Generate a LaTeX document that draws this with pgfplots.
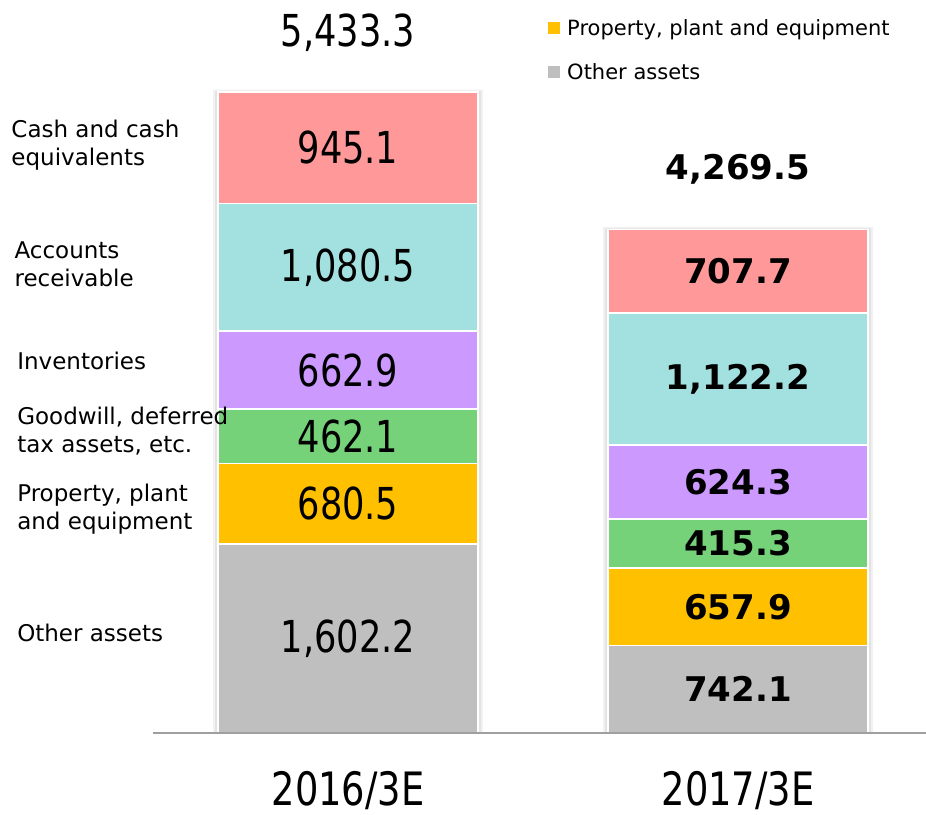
\documentclass[border=0pt]{standalone}
\usepackage{pgfplots}
\pgfplotsset{compat=1.18}
\usepackage{pgfplotstable}
\usepackage{fontspec}
\setmainfont{DejaVu Sans}
\usepackage{graphicx}
\definecolor{cashc}{HTML}{FF9999}
\definecolor{arc}{HTML}{A3E1E0}
\definecolor{invc}{HTML}{CC99FF}
\definecolor{gwc}{HTML}{75D279}
\definecolor{ppec}{HTML}{FFC000}
\definecolor{othc}{HTML}{BFBFBF}

\pgfplotstableread{
x other ppe gw inv ar cash total
0 1602.2 680.5 462.1 662.9 1080.5 945.1 5433.3
1 742.1 657.9 415.3 624.3 1122.2 707.7 4269.5
}\assets

\pgfplotstableread{
x y label
0 801.1 1,602.2
0 1942.45 680.5
0 2513.75 462.1
0 3076.25 662.9
0 3947.95 1,080.5
0 4960.75 945.1
0 5933 5,433.3
}\labelsA
\pgfplotstableread{
x y label
1 371.05 742.1
1 1071.05 657.9
1 1607.65 415.3
1 2127.45 624.3
1 3000.7 1,122.2
1 3915.65 707.7
1 4781 4,269.5
}\labelsB

\DeclareRobustCommand{\cond}[1]{\scalebox{0.80}[1]{#1}}
\pgfplotsset{mybase/.style={x=390pt, y=0.11798pt, xmin=-0.5, xmax=1.482, ymin=0, ymax=6213, clip=false}}

\begin{document}
\begin{tikzpicture}
% soft shadow behind the bars
\begin{axis}[mybase, hide axis, ybar, bar shift=0pt]
\addplot[fill=black!5, draw=none, bar width=270pt] table[x=x,y expr=\thisrow{total}+20]{\assets};
\addplot[fill=black!11, draw=none, bar width=266pt] table[x=x,y expr=\thisrow{total}+8]{\assets};
\end{axis}
\begin{axis}[mybase,
  ybar stacked, bar width=260pt,
  axis on top,
  axis x line=bottom, axis y line=none,
  x axis line style={draw=gray!75, line width=1.5pt, -},
  xtick={0,1}, xticklabels={{\cond{2016/3E}},{\cond{2017/3E}}},
  major tick length=0pt,
  xticklabel style={font=\fontsize{46}{46}\selectfont, anchor=base, text depth=0pt, yshift=-72pt},
]
\addplot[fill=othc, draw=white, line width=1.5pt] table[x=x,y=other]{\assets};
\addplot[fill=ppec, draw=white, line width=1.5pt] table[x=x,y=ppe]{\assets};
\addplot[fill=gwc, draw=white, line width=1.5pt] table[x=x,y=gw]{\assets};
\addplot[fill=invc, draw=white, line width=1.5pt] table[x=x,y=inv]{\assets};
\addplot[fill=arc, draw=white, line width=1.5pt] table[x=x,y=ar]{\assets};
\addplot[fill=cashc, draw=white, line width=1.5pt] table[x=x,y=cash]{\assets};
\coordinate (BL) at (axis cs:-0.8923,-686.6);
\coordinate (TR) at (axis cs:1.482,6213);
\end{axis}
\begin{axis}[mybase, hide axis,
  legend style={at={(axis cs:0.5026,6070)}, anchor=north west, draw=none, fill=none,
    font=\fontsize{21}{25}\selectfont, row sep=23pt, inner sep=0pt},
  legend cell align=left]
\addplot[forget plot, draw=none, mark=none, nodes near coords={\cond{\pgfplotspointmeta}},
  point meta=explicit symbolic,
  every node near coord/.style={anchor=center, font=\fontsize{44}{44}\selectfont, text=black}]
  table[x=x, y=y, meta=label]{\labelsA};
\addplot[forget plot, draw=none, mark=none, nodes near coords,
  point meta=explicit symbolic,
  every node near coord/.style={anchor=center, font=\fontsize{34}{34}\selectfont\bfseries, text=black}]
  table[x=x, y=y, meta=label]{\labelsB};
\addlegendimage{legend image code/.code={\path[draw=none, fill=none] (0pt,-6pt) rectangle (21pt,6pt); \fill[ppec, draw=none] (4pt,-6pt) rectangle (16pt,6pt);}}
\addlegendentry{Property, plant and equipment}
\addlegendimage{legend image code/.code={\path[draw=none, fill=none] (0pt,-6pt) rectangle (21pt,6pt); \fill[othc, draw=none] (4pt,-6pt) rectangle (16pt,6pt);}}
\addlegendentry{Other assets}
\node[anchor=west, align=left, font=\fontsize{23}{28}\selectfont] at (axis cs:-0.872,4984) {Cash and cash\\equivalents};
\node[anchor=west, align=left, font=\fontsize{23}{28}\selectfont] at (axis cs:-0.864,3975) {Accounts\\receivable};
\node[anchor=west, align=left, font=\fontsize{23}{28}\selectfont] at (axis cs:-0.857,3153) {Inventories};
\node[anchor=west, align=left, font=\fontsize{23}{28}\selectfont] at (axis cs:-0.857,2560) {Goodwill, deferred\\tax assets, etc.};
\node[anchor=west, align=left, font=\fontsize{23}{28}\selectfont] at (axis cs:-0.857,1899) {Property, plant\\and equipment};
\node[anchor=west, align=left, font=\fontsize{23}{28}\selectfont] at (axis cs:-0.857,848) {Other assets};
\end{axis}
\pgfresetboundingbox
\path[use as bounding box] (BL) rectangle (TR);
\end{tikzpicture}
\end{document}
